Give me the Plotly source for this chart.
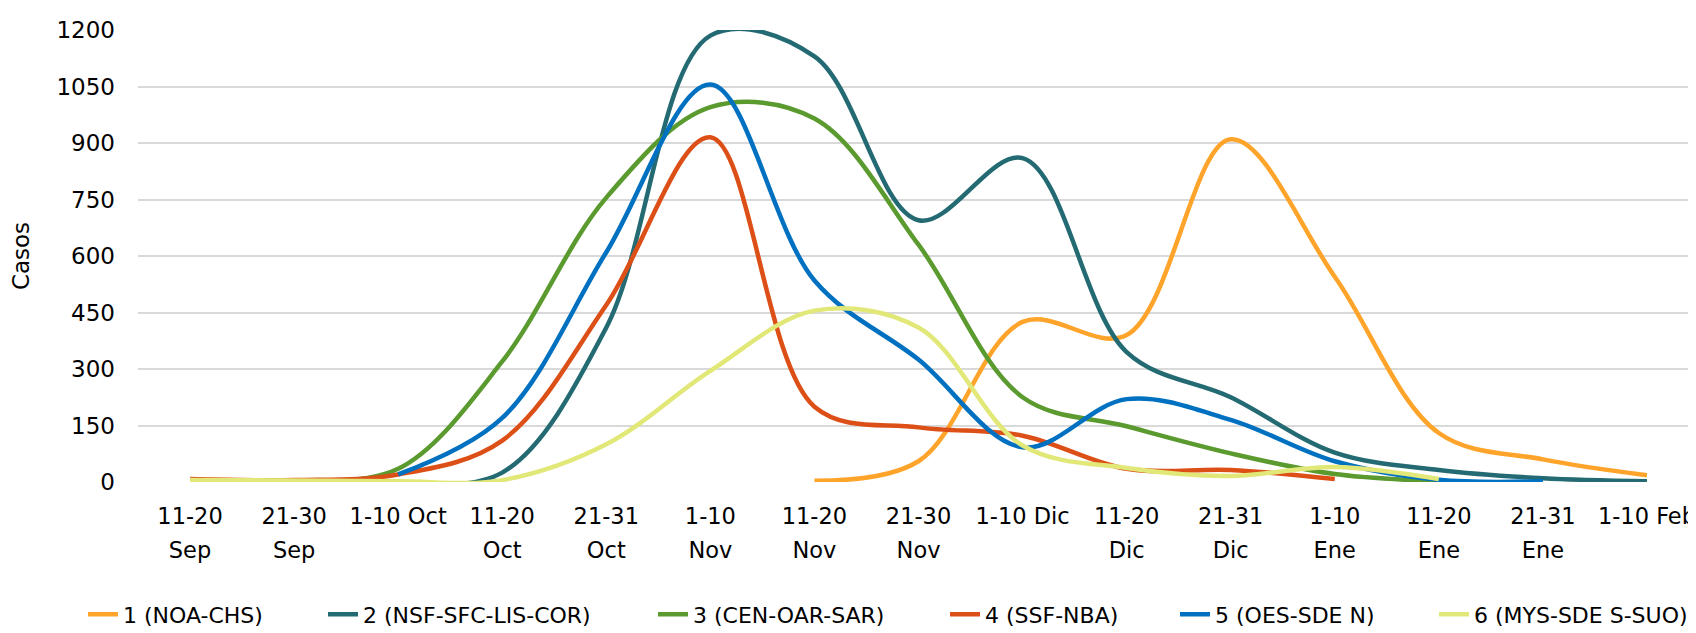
import plotly.graph_objects as go

categories = ["11-20 Sep", "21-30 Sep", "1-10 Oct", "11-20 Oct", "21-31 Oct",
              "1-10 Nov", "11-20 Nov", "21-30 Nov", "1-10 Dic", "11-20 Dic",
              "21-31 Dic", "1-10 Ene", "11-20 Ene", "21-31 Ene", "1-10 Feb"]
tick_line1 = ["11-20", "21-30", "1-10 Oct", "11-20", "21-31",
              "1-10", "11-20", "21-30", "1-10 Dic", "11-20",
              "21-31", "1-10", "11-20", "21-31", "1-10 Feb"]
tick_line2 = ["Sep", "Sep", "", "Oct", "Oct",
              "Nov", "Nov", "Nov", "", "Dic",
              "Dic", "Ene", "Ene", "Ene", ""]
y_ticks = [0, 150, 300, 450, 600, 750, 900, 1050, 1200]

names = ["1 (NOA-CHS)", "2 (NSF-SFC-LIS-COR)", "3 (CEN-OAR-SAR)",
         "4 (SSF-NBA)", "5 (OES-SDE N)", "6 (MYS-SDE S-SUO)"]

s1_noa = [6, 3, None, None, None, None, 3, 55, 425, 390, 910, 545, 130, 60, 18]
s2_nsf = [None, None, 0, 25, 410, 1185, 1130, 695, 860, 345, 225, 78, 32, 10, 2]
s3_cen = [None, 4, 35, 320, 755, 995, 965, 630, 225, 148, 76, 21, 2, None, None]
s4_ssf = [8, 5, 20, 110, 470, 915, 200, 145, 123, 35, 32, 8, None, None, None]
s5_oes = [None, None, 20, 170, 610, 1055, 535, 325, 92, 220, 165, 55, 6, 2, None]
s6_mys = [5, 4, 2, 5, 100, 295, 455, 410, 97, 37, 16, 40, 8, None, None]

series = [s1_noa, s2_nsf, s3_cen, s4_ssf, s5_oes, s6_mys]
colors = ["#FFA42B", "#246A72", "#5A9A2E", "#DC4F16", "#0070C0", "#E1E878"]

FONT = "DejaVu Sans, Verdana, sans-serif"
W, H = 1696, 633
ML, MR, MT, MB = 130, 5, 22, 150
PW = W - ML - MR
PH = H - MT - MB

legend_text_x = [117, 357, 687, 979, 1209, 1468]
legend_y_px = 618

fig = go.Figure()
for i, (name, vals, col) in enumerate(zip(names, series, colors)):
    fig.add_trace(go.Scatter(
        x=categories, y=vals, name=name, mode="lines",
        line=dict(color=col, width=4.5, shape="spline", smoothing=1),
        connectgaps=False, cliponaxis=False,
        legend="legend" if i == 0 else f"legend{i+1}",
    ))

# carrier for the second row of category labels (no visible marks)
fig.add_trace(go.Scatter(
    x=list(range(len(categories))), y=[None] * len(categories),
    xaxis="x2", yaxis="y", mode="lines", showlegend=False, hoverinfo="skip",
))

layout_legends = {}
for i, tx in enumerate(legend_text_x):
    key = "legend" if i == 0 else f"legend{i+1}"
    layout_legends[key] = dict(
        x=(tx - 42 - ML) / PW, y=(MT + PH - legend_y_px) / PH,
        xanchor="left", yanchor="middle", orientation="h",
        font=dict(family=FONT, size=22, color="#000000"),
        bgcolor="rgba(0,0,0,0)", borderwidth=0,
    )

fig.update_layout(
    width=W, height=H,
    margin=dict(l=ML, r=MR, t=MT, b=MB),
    paper_bgcolor="white", plot_bgcolor="white",
    showlegend=True,
    xaxis=dict(
        type="category", categoryorder="array", categoryarray=categories,
        range=[-0.5, len(categories) - 0.5],
        tickvals=categories, ticktext=tick_line1, tickangle=0,
        showgrid=False, zeroline=False, showline=False, ticks="",
        tickfont=dict(family=FONT, size=22.5, color="#000000"),
        ticklabelstandoff=18,
    ),
    xaxis2=dict(
        overlaying="x", anchor="y", side="bottom", type="linear",
        range=[-0.5, len(categories) - 0.5],
        tickvals=list(range(len(categories))), ticktext=tick_line2, tickangle=0,
        showgrid=False, zeroline=False, showline=False, ticks="",
        tickfont=dict(family=FONT, size=22.5, color="#000000"),
        ticklabelstandoff=52,
    ),
    yaxis=dict(
        range=[0, 1200], tickvals=y_ticks,
        showgrid=True, gridcolor="#D9D9D9", gridwidth=1.5,
        zeroline=False, showline=False, ticks="",
        tickfont=dict(family=FONT, size=23, color="#000000"),
        ticklabelstandoff=22,
        title=dict(text="Casos", font=dict(family=FONT, size=23, color="#000000"), standoff=22),
    ),
    **layout_legends,
)

fig.write_html("out.html")
